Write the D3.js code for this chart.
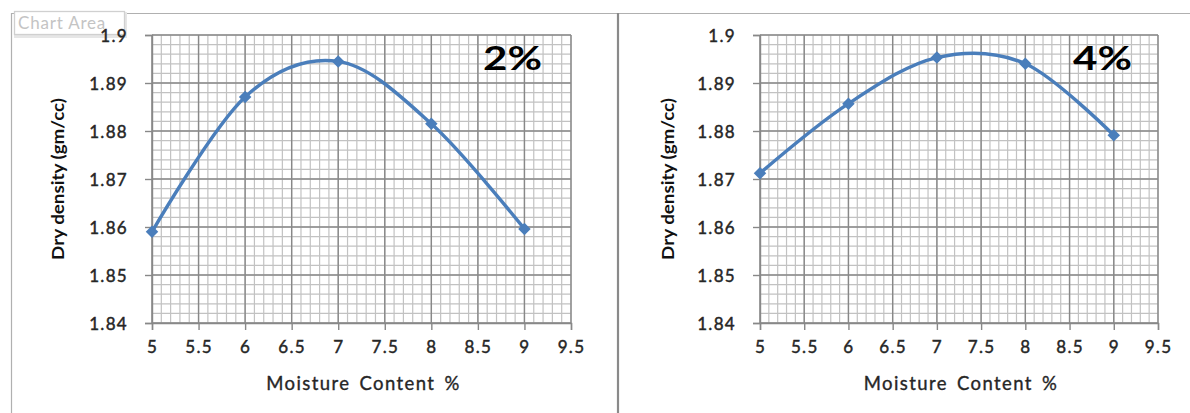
<!DOCTYPE html>
<html>
<head>
<meta charset="utf-8">
<script src="https://cdn.jsdelivr.net/npm/d3@7"></script>
<style>
  html, body { margin: 0; padding: 0; background: #fff; }
  svg { display: block; }
  text { font-family: Lato, "Open Sans", sans-serif; }
</style>
</head>
<body>
<svg id="chart" width="1190" height="413"></svg>
<script>
// Compaction results: dry density against moisture content
const moisture = [5, 6, 7, 8, 9];
const density2 = [1.8590, 1.8871, 1.8945, 1.8815, 1.8596];
const density4 = [1.8712, 1.8857, 1.8953, 1.8940, 1.8791];
const panelLabels = ["2%", "4%"];

const xTicks = [5, 5.5, 6, 6.5, 7, 7.5, 8, 8.5, 9, 9.5];
const yTicks = [1.84, 1.85, 1.86, 1.87, 1.88, 1.89, 1.9];
const xTickLabels = ["5", "5.5", "6", "6.5", "7", "7.5", "8", "8.5", "9", "9.5"];
const yTickLabels = ["1.84", "1.85", "1.86", "1.87", "1.88", "1.89", "1.9"];
const xTitle = "Moisture Content %";
const yTitle = "Dry density (gm/cc)";

const svg = d3.select("#chart");
const lineColor = "#4a7ebb";

// outer chart frame
svg.append("line").attr("x1", 11).attr("x2", 1190).attr("y1", 13.5).attr("y2", 13.5)
  .attr("stroke", "#b0b0b0").attr("stroke-width", 1.2);
svg.append("line").attr("x1", 11.5).attr("x2", 11.5).attr("y1", 13).attr("y2", 413)
  .attr("stroke", "#b0b0b0").attr("stroke-width", 1.2);
svg.append("line").attr("x1", 618).attr("x2", 618).attr("y1", 13).attr("y2", 413)
  .attr("stroke", "#8a8a8a").attr("stroke-width", 2.2);

// selection tag at the top-left corner
const tag = svg.append("g");
tag.append("rect").attr("x", 15.5).attr("y", 13.5).attr("width", 110).attr("height", 23)
  .attr("fill", "none").attr("stroke", "#e6e6e6").attr("stroke-width", 3);
tag.append("rect").attr("x", 14.5).attr("y", 11.5).attr("width", 110).attr("height", 23)
  .attr("fill", "#fff").attr("stroke", "#d0d0d0").attr("stroke-width", 1.3);
tag.append("text").attr("x", 18).attr("y", 29).attr("font-size", 17)
  .attr("letter-spacing", "0.8px").attr("fill", "#c4c4c4").text("Chart Area");

function drawPanel(opt) {
  const g = svg.append("g");
  const x = d3.scaleLinear().domain([5, 9.5]).range([opt.left, opt.right]);
  const y = d3.scaleLinear().domain([1.84, 1.9]).range([323, 35]);

  // minor grid
  const minorX = d3.range(50, 96).map(v => v / 10);
  const minorY = d3.range(920, 951).map(v => v / 500);
  g.append("g").selectAll("line").data(minorX).join("line")
    .attr("x1", d => x(d)).attr("x2", d => x(d)).attr("y1", y(1.9)).attr("y2", y(1.84))
    .attr("stroke", "#c2c2c2").attr("stroke-width", 1.2);
  g.append("g").selectAll("line").data(minorY).join("line")
    .attr("y1", d => y(d)).attr("y2", d => y(d)).attr("x1", x(5)).attr("x2", x(9.5))
    .attr("stroke", "#c2c2c2").attr("stroke-width", 1.2);

  // major grid
  g.append("g").selectAll("line").data(xTicks).join("line")
    .attr("x1", d => x(d)).attr("x2", d => x(d)).attr("y1", y(1.9)).attr("y2", y(1.84))
    .attr("stroke", "#888").attr("stroke-width", 1.4);
  g.append("g").selectAll("line").data(yTicks).join("line")
    .attr("y1", d => y(d)).attr("y2", d => y(d)).attr("x1", x(5)).attr("x2", x(9.5))
    .attr("stroke", "#888").attr("stroke-width", 1.4);

  // axes
  const xAxis = d3.axisBottom(x).tickValues(xTicks).tickSize(7).tickPadding(11)
    .tickFormat((d, i) => xTickLabels[i]);
  const yAxis = d3.axisLeft(y).tickValues(yTicks).tickSize(7).tickPadding(17)
    .tickFormat((d, i) => yTickLabels[i]);
  const gx = g.append("g").attr("transform", `translate(0,${y(1.84)})`).call(xAxis);
  const gy = g.append("g").attr("transform", `translate(${x(5)},0)`).call(yAxis);
  [gx, gy].forEach(a => {
    a.select(".domain").attr("stroke", "#888").attr("stroke-width", 1.4);
    a.selectAll(".tick line").attr("stroke", "#888").attr("stroke-width", 1.4);
    a.selectAll(".tick text").attr("fill", "#262626").attr("font-size", 17)
      .attr("stroke", "#262626").attr("stroke-width", 0.45)
      .attr("letter-spacing", "1.3px").attr("font-family", "Lato, sans-serif");
  });
  gy.selectAll(".tick text").attr("dy", "0.36em");

  // axis titles
  g.append("text").attr("x", (opt.left + opt.right) / 2 + 2).attr("y", 390)
    .attr("text-anchor", "middle").attr("font-size", 18.5).attr("fill", "#262626")
    .attr("stroke", "#262626").attr("stroke-width", 0.35)
    .attr("letter-spacing", "1.4px").attr("word-spacing", "3px").text(xTitle);
  g.append("text").attr("transform", `translate(${opt.titleX},179) rotate(-90)`)
    .attr("text-anchor", "middle").attr("font-size", 17.5).attr("font-weight", 700)
    .attr("textLength", 162).attr("lengthAdjust", "spacingAndGlyphs")
    .attr("fill", "#111").text(yTitle);

  // smoothed series line and diamond markers
  const pts = moisture.map((m, i) => [m, opt.values[i]]);
  const line = d3.line().x(d => x(d[0])).y(d => y(d[1])).curve(d3.curveCatmullRom.alpha(0));
  g.append("path").datum(pts).attr("d", line).attr("fill", "none")
    .attr("stroke", lineColor).attr("stroke-width", 3.4).attr("stroke-linejoin", "round");
  const diamond = d3.symbol().type(d3.symbolDiamond2).size(100);
  g.append("g").selectAll("path").data(pts).join("path")
    .attr("transform", d => `translate(${x(d[0])},${y(d[1])})`)
    .attr("d", diamond).attr("fill", lineColor);

  // panel label
  g.append("text").attr("x", opt.labelX - 29).attr("y", 70)
    .attr("font-size", 33).attr("font-weight", 700).attr("fill", "#000")
    .attr("textLength", 59).attr("lengthAdjust", "spacingAndGlyphs").text(opt.label);
}

drawPanel({ left: 152, right: 571, titleX: 64, values: density2, label: panelLabels[0], labelX: 512 });
drawPanel({ left: 760, right: 1158, titleX: 674, values: density4, label: panelLabels[1], labelX: 1102 });
</script>
</body>
</html>
